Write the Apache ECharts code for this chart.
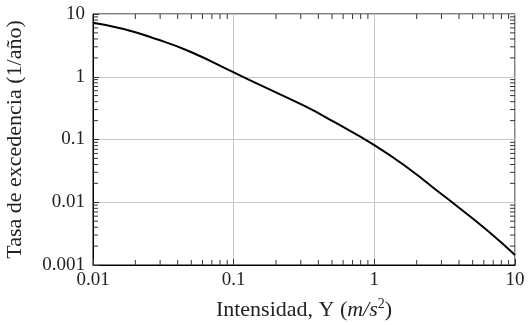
<!DOCTYPE html>
<html>
<head>
<meta charset="utf-8">
<script src="https://cdn.jsdelivr.net/npm/echarts@6/dist/echarts.min.js"></script>
<style>
  html, body { margin: 0; padding: 0; background: #fff; }
  #chart { width: 530px; height: 325px; }
</style>
</head>
<body>
<div id="chart"></div>
<script>
// curva de tasa de excedencia
var intensity = [0.01, 0.0165, 0.0285, 0.0492, 0.101, 0.159, 0.324, 0.514, 1, 1.81, 2.87, 3.57, 6.52, 10];
var rate = [7.26, 5.77, 3.95, 2.5, 1.16, 0.715, 0.336, 0.192, 0.0816, 0.0327, 0.0146, 0.01, 0.0034, 0.00144];

var xDecades = [0.01, 0.1, 1];
var yDecades = [0.001, 0.01, 0.1, 1];
var minorMult = [2, 3, 4, 5, 6, 7, 8, 9];

var xMin = 0.01, xMax = 10, yMin = 0.001, yMax = 10;
var fontName = 'Liberation Serif';

function minorList(decades)
{
    var out = [];
    decades.forEach(function (d) {
        minorMult.forEach(function (m) { out.push(+(d * m).toPrecision(3)); });
    });
    return out;
}

function fmt(v)
{
    return String(parseFloat(v.toPrecision(3)));
}

var chart = echarts.init(document.getElementById('chart'));

var tickLen = 5;
var tickStyle = {stroke: '#333', lineWidth: 1};

var option = {
    animation: false,
    grid: {left: 93, right: 15, top: 14, bottom: 60, show: true, borderColor: '#000', borderWidth: 1,
           containLabel: false, outerBoundsMode: 'none'},
    xAxis: {
        type: 'log', logBase: 10, min: xMin, max: xMax,
        axisLine: {show: true, lineStyle: {color: '#000', width: 1}},
        axisTick: {show: true, inside: true, length: 6, lineStyle: {color: '#333'}},
        splitLine: {show: true, lineStyle: {color: '#c8c8c8', width: 1}},
        axisLabel: {fontFamily: fontName, fontSize: 19, color: '#222', margin: 6, formatter: fmt},
        name: '{t|Intensidad, Y (}{i|m/s}{s|2}{t|)}',
        nameLocation: 'middle', nameGap: 32,
        nameTextStyle: {
            rich: {
                t: {fontFamily: fontName, fontSize: 22, color: '#222', lineHeight: 26},
                i: {fontFamily: fontName, fontSize: 22, fontStyle: 'italic', color: '#222', lineHeight: 26},
                s: {fontFamily: fontName, fontSize: 14, color: '#222', lineHeight: 26, verticalAlign: 'top'}
            }
        }
    },
    yAxis: {
        type: 'log', logBase: 10, min: yMin, max: yMax,
        axisLine: {show: true, lineStyle: {color: '#000', width: 1}},
        axisTick: {show: true, inside: true, length: 6, lineStyle: {color: '#333'}},
        splitLine: {show: true, lineStyle: {color: '#c8c8c8', width: 1}},
        axisLabel: {fontFamily: fontName, fontSize: 19, color: '#222', margin: 8, formatter: fmt},
        name: 'Tasa de excedencia (1/año)',
        nameLocation: 'middle', nameGap: 67,
        nameTextStyle: {fontFamily: fontName, fontSize: 22, color: '#222'}
    },
    series: [
        {
            type: 'line', data: intensity.map(function (x, i) { return [x, rate[i]]; }),
            smooth: 0.5, symbol: 'none',
            lineStyle: {color: '#000', width: 2}, z: 5
        },
        {
            // ticks menores del eje x (abajo y arriba)
            type: 'custom', data: minorList(xDecades).map(function (v) { return [v, yMin]; }), silent: true, z: 4,
            renderItem: function (params, api) {
                var v = api.value(0);
                var b = api.coord([v, yMin]);
                var t = api.coord([v, yMax]);
                return {type: 'group', children: [
                    {type: 'line', shape: {x1: b[0], y1: b[1], x2: b[0], y2: b[1] - tickLen}, style: tickStyle},
                    {type: 'line', shape: {x1: t[0], y1: t[1], x2: t[0], y2: t[1] + tickLen}, style: tickStyle}
                ]};
            }
        },
        {
            // ticks menores del eje y (izquierda y derecha)
            type: 'custom', data: minorList(yDecades).map(function (v) { return [xMin, v]; }), silent: true, z: 4,
            renderItem: function (params, api) {
                var v = api.value(1);
                var l = api.coord([xMin, v]);
                var r = api.coord([xMax, v]);
                return {type: 'group', children: [
                    {type: 'line', shape: {x1: l[0], y1: l[1], x2: l[0] + tickLen, y2: l[1]}, style: tickStyle},
                    {type: 'line', shape: {x1: r[0], y1: r[1], x2: r[0] - tickLen, y2: r[1]}, style: tickStyle}
                ]};
            }
        }
    ]
};

chart.setOption(option);
</script>
</body>
</html>
